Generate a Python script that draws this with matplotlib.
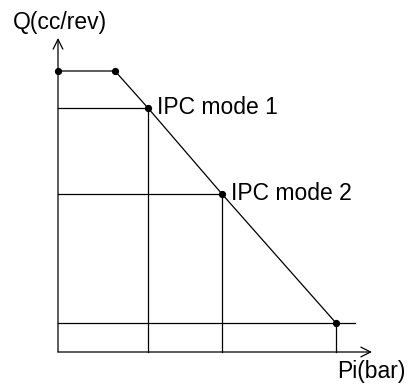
import matplotlib
matplotlib.use("Agg")
import matplotlib.pyplot as plt

# pump flow vs pressure curve (arbitrary units, origin at axis corner)
curve_pi = [0, 57, 90, 164, 278]
curve_q = [281, 281, 244, 158, 29]

# operating points marked by guide lines
mode_pi = [90, 164, 278]
mode_q = [244, 158, 29]
mode_labels = ["IPC mode 1", "IPC mode 2", None]
guide_end = [90, 164, 297]  # the last horizontal guide runs past its point

x_label = "Pi(bar)"
y_label = "Q(cc/rev)"

plt.rcParams["font.family"] = ["Liberation Sans", "DejaVu Sans"]

fig = plt.figure(figsize=(4.11, 3.88), dpi=100)
ax = fig.add_axes([0, 0, 1, 1])
ax.set_xlim(-58, 353)
ax.set_ylim(-36, 352)
ax.axis("off")

lw = 0.9
arrow = dict(arrowstyle="->, head_length=0.5, head_width=0.25", lw=lw,
             color="black", shrinkA=0, shrinkB=0, mutation_scale=14)
ax.annotate("", xy=(0, 314), xytext=(0, 0), arrowprops=arrow)
ax.annotate("", xy=(314, 0), xytext=(0, 0), arrowprops=arrow)

for p, q, end in zip(mode_pi, mode_q, guide_end):
    ax.plot([0, end], [q, q], color="black", lw=lw)
    ax.plot([p, p], [0, q], color="black", lw=lw)

ax.plot(curve_pi, curve_q, color="black", lw=lw)
ax.plot([curve_pi[0], curve_pi[1]] + mode_pi, [curve_q[0], curve_q[1]] + mode_q,
        "o", color="black", ms=4.2, ls="none")

for p, q, lab in zip(mode_pi, mode_q, mode_labels):
    if lab:
        ax.text(p + 9, q - 6, lab, fontsize=16.5, va="baseline", ha="left")

ax.text(-45, 323, y_label, fontsize=16.5, va="baseline", ha="left")
ax.text(279, -26, x_label, fontsize=16.5, va="baseline", ha="left")

fig.savefig("out.png", dpi=100)
